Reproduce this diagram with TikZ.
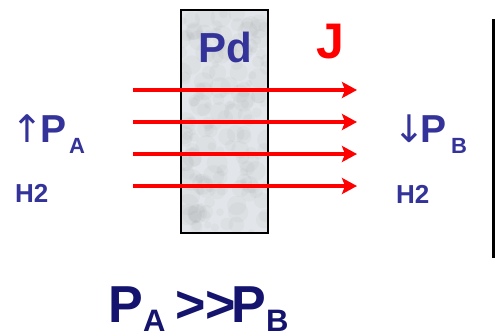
\documentclass[tikz,border=0pt]{standalone}
\usepackage{fontspec}
\setmainfont{Liberation Sans}
\newfontfamily\arrowfont{DejaVu Sans}
\usetikzlibrary{arrows.meta}
\definecolor{pdblue}{RGB}{51,51,153}
\definecolor{navy}{RGB}{20,20,110}
\definecolor{marble}{RGB}{226,230,234}
\begin{document}
\begin{tikzpicture}[x=1pt,y=-1pt,
  flux/.style={red, line width=3.5pt, -{Stealth[length=15pt,width=16pt,inset=3pt]}},
  lbl/.style={inner sep=0pt, text=pdblue},
  big/.style={font=\bfseries\fontsize{39}{39}\selectfont},
  arr/.style={font=\arrowfont\fontsize{38}{38}\selectfont},
  sub/.style={font=\bfseries\fontsize{22}{22}\selectfont},
  small/.style={font=\bfseries\fontsize{26}{26}\selectfont},
  huge/.style={inner sep=0pt, text=navy, font=\bfseries\fontsize{52}{52}\selectfont},
  hugesub/.style={inner sep=0pt, text=navy, font=\bfseries\fontsize{31}{31}\selectfont},
  ]
\useasboundingbox (0,0) rectangle (495,335);
% membrane texture
\begin{scope}
\clip (181,10) rectangle (268,233);
\fill[marble] (181,10) rectangle (268,233);
\pgfmathsetseed{7}
\foreach \i in {1,...,170}{
  \pgfmathsetmacro\xx{181+87*rnd}
  \pgfmathsetmacro\yy{10+223*rnd}
  \pgfmathsetmacro\rr{3+8*rnd}
  \fill[gray, opacity=0.06] (\xx,\yy) circle (\rr);
}
\end{scope}
\node[draw=black, line width=2pt, minimum width=87pt, minimum height=223pt, inner sep=0pt] (pd) at (224.5,121.5) {};
% labels
\node[lbl, anchor=base, font=\bfseries\fontsize{42}{42}\selectfont] (pdlabel) at (225,62) {Pd};
\node[inner sep=0pt, anchor=base, text=red, font=\bfseries\fontsize{50}{50}\selectfont] (J) at (330,58) {J};
% flux arrows
\foreach \k/\yy in {1/90,2/122,3/154,4/186}{
  \coordinate (s\k) at (133,\yy);
  \coordinate (e\k) at (357,\yy);
  \draw[flux] (s\k) -- (e\k);
}
% left side
\node[lbl, arr, anchor=base] (upa) at (27,142) {↑};
\node[lbl, big, anchor=base west] (pa) at (40,142) {P};
\node[lbl, sub, anchor=base west] (pasub) at (69,153) {A};
\node[lbl, small, anchor=base west] (h2a) at (15,202) {H2};
% right side
\node[lbl, arr, anchor=base] (dnb) at (409,142) {↓};
\node[lbl, big, anchor=base west] (pb) at (420,142) {P};
\node[lbl, sub, anchor=base west] (pbsub) at (451,153) {B};
\node[lbl, small, anchor=base west] (h2b) at (396,203) {H2};
% vertical line
\coordinate (vt) at (493.5,19);
\coordinate (vb) at (493.5,258);
\draw[line width=3pt] (vt) -- (vb);
% bottom relation
\node[huge, anchor=base west] (bpa) at (108,322) {P};
\node[hugesub, anchor=base west] (bpasub) at (143,331) {A};
\node[huge, anchor=base west] (gg) at (175,322) {>{}>};
\node[huge, anchor=base west] (bpb) at (231,322) {P};
\node[hugesub, anchor=base west] (bpbsub) at (266,331) {B};
\end{tikzpicture}
\end{document}
